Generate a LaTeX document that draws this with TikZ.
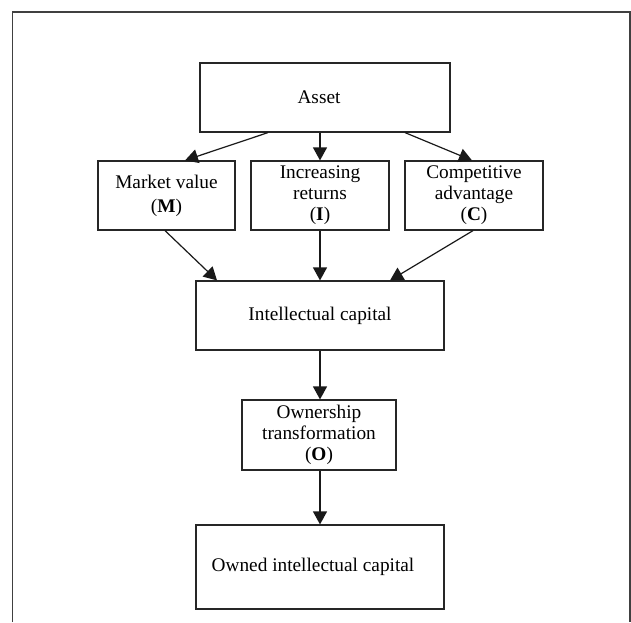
\documentclass[tikz,border=0pt]{standalone}
\usepackage{fontspec}
\setmainfont{Liberation Serif}
\usetikzlibrary{arrows.meta,calc}
\begin{document}
\begin{tikzpicture}[x=1pt,y=1pt,
  box/.style={draw=black!85,line width=1.2pt,fill=white,align=center,inner sep=0pt,
    font=\fontsize{19.3}{21}\selectfont},
  arr/.style={draw=black!90,line width=1.2pt,-{Triangle[length=13pt,width=14pt]}}]
\useasboundingbox (0,0) rectangle (631,-622);
\draw[black!75,line width=1.3pt] (12.5,-622) -- (12.5,-12) -- (630,-12) -- (630,-622);
\node[box,minimum width=250pt,minimum height=69pt] (asset) at (325,-97.5) {Asset\hspace*{12pt}};
\node[box,minimum width=137pt,minimum height=69pt] (mv) at (166.5,-195.5) {Market value\\[3pt](\textbf{M})};
\node[box,minimum width=138pt,minimum height=69pt] (ir) at (320,-195.5) {Increasing\\returns\\(\textbf{I})};
\node[box,minimum width=138pt,minimum height=69pt] (ca) at (474,-195.5) {Competitive\\advantage\\(\textbf{C})};
\node[box,minimum width=248pt,minimum height=69pt] (ic) at (320,-315.5) {Intellectual capital};
\node[box,minimum width=154pt,minimum height=70pt] (ot) at (319,-435) {Ownership\\transformation\\(\textbf{O})};
\node[box,minimum width=248pt,minimum height=84pt] (oic) at (320,-567) {Owned intellectual capital\hspace*{14pt}};
\draw[arr] ($(asset.south)+(-57,0)$) -- ($(mv.north)+(18.5,0)$);
\draw[arr] (ir.north |- asset.south) -- (ir.north);
\draw[arr] ($(asset.south)+(80,0)$) -- ($(ca.north)+(-2,0)$);
\draw[arr] ($(mv.south)+(-1.5,0)$) -- ($(ic.north)+(-103,0)$);
\draw[arr] (ir.south) -- (ic.north);
\draw[arr] ($(ca.south)+(-1,0)$) -- ($(ic.north)+(70,0)$);
\draw[arr] (ic.south) -- (ic.south |- ot.north);
\draw[arr] (ot.south -| oic.north) -- (oic.north);
\end{tikzpicture}
\end{document}
